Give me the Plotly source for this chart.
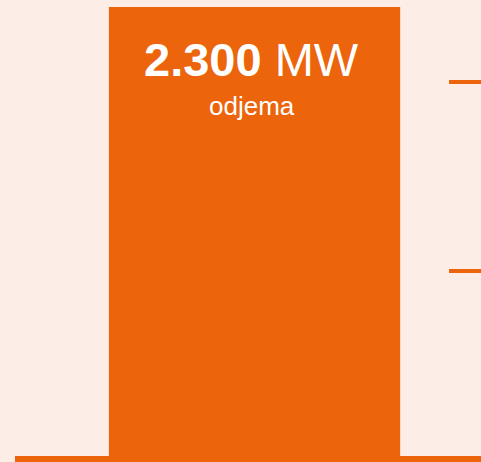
import plotly.graph_objects as go

# data
categories = ["odjem"]
values = [2300]
unit = "MW"
label = "odjema"
marker_levels = [948, 1916]

ORANGE = "#EC640B"
BG = "#FCEDE6"

value_text = f"{values[0]:,}".replace(",", ".")

fig = go.Figure()
fig.add_trace(go.Bar(
    x=categories,
    y=values,
    width=0.625,
    marker=dict(color=ORANGE, line=dict(width=0)),
    hoverinfo="skip",
))

fig.add_annotation(
    x=categories[0], xref="x", y=(456 - 59) / 456, yref="paper",
    text=f"<b>{value_text}</b> {unit}",
    showarrow=False, yanchor="middle", xshift=-3,
    font=dict(family="Liberation Sans, Arial", size=47, color="white"),
)
fig.add_annotation(
    x=categories[0], xref="x", y=(456 - 106) / 456, yref="paper",
    text=label,
    showarrow=False, yanchor="middle", xshift=-3,
    font=dict(family="Liberation Sans, Arial", size=26, color="white"),
)

fig.update_layout(
    width=481,
    height=462,
    margin=dict(l=15, r=0, t=0, b=6),
    paper_bgcolor=BG,
    plot_bgcolor=BG,
    showlegend=False,
    xaxis=dict(
        range=[-0.514, 0.486],
        showticklabels=False,
        showgrid=False,
        zeroline=False,
        showline=True,
        linecolor=ORANGE,
        linewidth=6,
        ticks="",
    ),
    yaxis=dict(
        range=[0, 2336],
        side="right",
        tickvals=marker_levels,
        ticks="inside",
        ticklen=32,
        tickwidth=4,
        tickcolor=ORANGE,
        showticklabels=False,
        showgrid=False,
        zeroline=False,
        showline=False,
    ),
)

fig.write_html(
    "out.html",
    config={"displayModeBar": False},
    post_script="document.body.style.margin='0';document.body.style.overflow='hidden';",
)
